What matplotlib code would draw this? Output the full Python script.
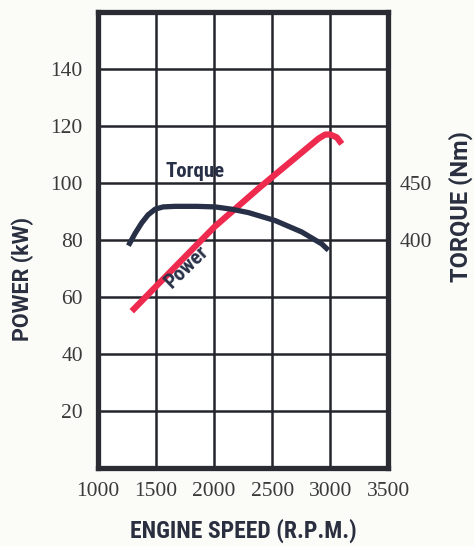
import matplotlib
matplotlib.use("Agg")
import matplotlib.pyplot as plt

# engine speed (rpm) vs power (kW)
rpm_power = [1290, 1650, 2000, 2400, 2900, 2957, 3000, 3057, 3100]
power_kw = [55.0, 70.0, 84.5, 98.7, 115.6, 117.0, 117.0, 116.0, 113.7]

# engine speed (rpm) vs torque (Nm)
rpm_torque = [1261, 1320, 1376, 1430, 1491, 1560, 1664, 1850, 2009, 2150, 2296, 2526, 2755, 2928, 2985]
torque_nm = [395, 406, 415, 422, 427, 429, 429.5, 429.5, 429, 427, 424, 417, 407, 396.5, 391]

x_ticks = [1000, 1500, 2000, 2500, 3000, 3500]
y_ticks = [20, 40, 60, 80, 100, 120, 140]
torque_ticks = [400, 450]

NAVY = "#283047"
RED = "#ee2a4f"
GRID = "#24252c"
SERIF = ["Liberation Serif", "DejaVu Serif"]
NARROW = ["Roboto Condensed", "DejaVu Sans"]
WIDE = ["Roboto", "DejaVu Sans"]

fig = plt.figure(figsize=(4.74, 5.46), dpi=100)
fig.patch.set_facecolor("#fbfbf8")
ax = fig.add_axes([0.207, 0.143, 0.612, 0.835])
ax.set_facecolor("white")
ax.set_xlim(1000, 3500)
ax.set_ylim(0, 160)

for x in x_ticks[1:-1]:
    ax.axvline(x, color=GRID, lw=1.8, zorder=1)
for y in y_ticks:
    ax.axhline(y, color=GRID, lw=1.8, zorder=1)
for s in ax.spines.values():
    s.set_linewidth(3.8)
    s.set_color("#2a2b33")
    s.set_zorder(5)

ax.set_xticks(x_ticks)
ax.set_yticks(y_ticks)
ax.tick_params(length=0, labelsize=15.5, colors="#3a3a3a")
ax.tick_params(axis="x", pad=10)
ax.tick_params(axis="y", pad=11)
for lab in ax.get_xticklabels() + ax.get_yticklabels():
    lab.set_family(SERIF)

ax2 = ax.twinx()
ax2.set_ylim(200, 600)
ax2.set_yticks(torque_ticks)
ax2.tick_params(length=0, labelsize=15.5, colors="#3a3a3a", pad=8)
for lab in ax2.get_yticklabels():
    lab.set_family(SERIF)
for s in ax2.spines.values():
    s.set_visible(False)

ax2.plot(rpm_torque, torque_nm, color=NAVY, lw=3.8, solid_capstyle="butt",
         solid_joinstyle="round", zorder=3)
ax.plot(rpm_power, power_kw, color=RED, lw=4.5, solid_capstyle="butt",
        solid_joinstyle="round", zorder=3)

lbl = dict(family=NARROW, fontstretch="condensed", fontweight="bold")
ax.text(1836, 104, "Torque", fontsize=15, color=NAVY, ha="center", va="center",
        zorder=4, **lbl)
ax.text(1760, 70.5, "Power", fontsize=15, color=NAVY, ha="center", va="center",
        rotation=44, zorder=4, **lbl)

vlbl = dict(family=WIDE, fontweight="bold", color="#2a2f40",
            rotation=90, ha="center", va="center")
fig.text(0.049, 0.489, "POWER (kW)", fontsize=15.5, **vlbl)
fig.text(0.972, 0.622, "TORQUE (Nm)", fontsize=17, **vlbl)
fig.text(0.513, 0.027, "ENGINE SPEED (R.P.M.)", fontsize=17, color="#2a2f40",
         ha="center", va="center", **lbl)

fig.savefig("out.png", dpi=100, facecolor=fig.get_facecolor())
